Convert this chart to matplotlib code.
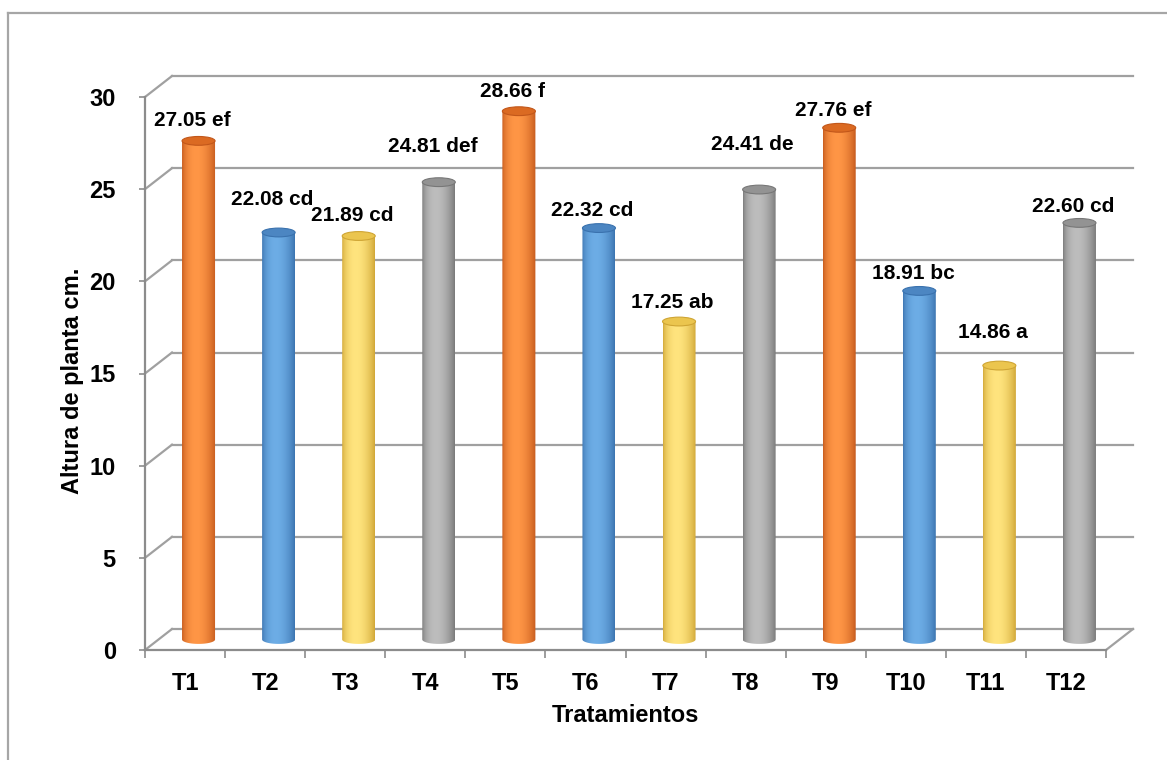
import numpy as np
import matplotlib
matplotlib.use("Agg")
import matplotlib.pyplot as plt
from matplotlib.patches import Ellipse, PathPatch
from matplotlib.path import Path
from matplotlib.lines import Line2D
from matplotlib.colors import to_rgb

plt.rcParams["font.family"] = ["Liberation Sans", "DejaVu Sans"]
plt.rcParams["font.weight"] = "bold"

# Data
treatments = ["T1", "T2", "T3", "T4", "T5", "T6", "T7", "T8", "T9", "T10", "T11", "T12"]
heights = [27.05, 22.08, 21.89, 24.81, 28.66, 22.32, 17.25, 24.41, 27.76, 18.91, 14.86, 22.60]
groups = ["ef", "cd", "cd", "def", "f", "cd", "ab", "de", "ef", "bc", "a", "cd"]

# Label lift above each cylinder top, in pixels
label_gap_px = [20, 33, 20, 36, 20, 18, 19, 45, 17, 17, 33, 16]

# Shading palettes per colour family: (edge, body highlight, top face)
palettes = {
    "orange": ("#C2571A", "#FF9646", "#DB6A22"),
    "blue": ("#3A72AE", "#6DADE6", "#4C86C2"),
    "yellow": ("#CFA534", "#FFE47E", "#EBC54E"),
    "gray": ("#777777", "#BDBDBD", "#939393"),
}
bar_colours = ["orange", "blue", "yellow", "gray"] * 3

W, H, DPI = 1167, 760, 100
fig = plt.figure(figsize=(W / DPI, H / DPI), dpi=DPI)
fig.patch.set_facecolor("white")

# Outer chart border (left and top edges)
border_c = "#A6A6A6"
fig.add_artist(Line2D([8 / W, 8 / W], [0, 1 - 13 / H], color=border_c, lw=1.6, transform=fig.transFigure))
fig.add_artist(Line2D([8 / W, 1], [1 - 13 / H, 1 - 13 / H], color=border_c, lw=1.6, transform=fig.transFigure))

# Front plane of the 3-D box
ax = fig.add_axes([145 / W, 110 / H, 961 / W, 553 / H])
n = len(treatments)
ymax = 30
ax.set_xlim(0, n)
ax.set_ylim(0, ymax)

px_per_x = 961 / n
px_per_y = 553 / ymax
depth_x = 27 / px_per_x
depth_y = 21 / px_per_y

grid_c = "#A0A0A0"
for v in range(0, ymax + 1, 5):
    ax.plot([0, depth_x], [v, v + depth_y], color=grid_c, lw=1.6, clip_on=False, zorder=1)
    ax.plot([depth_x, n + depth_x], [v + depth_y, v + depth_y], color=grid_c, lw=1.6,
            clip_on=False, zorder=1)
ax.plot([n, n + depth_x], [0, depth_y], color=grid_c, lw=1.6, clip_on=False, zorder=1)

for side in ["top", "right"]:
    ax.spines[side].set_visible(False)
for side in ["left", "bottom"]:
    ax.spines[side].set_color("#8C8C8C")
    ax.spines[side].set_linewidth(1.6)
    ax.spines[side].set_zorder(2)

ax.set_yticks(range(0, ymax + 1, 5))
ax.tick_params(axis="y", direction="out", length=4, width=1.2, color="#8C8C8C",
               labelsize=17, pad=17)
ax.set_xticks(np.arange(0, n + 1))
ax.set_xticklabels([])
ax.tick_params(axis="x", which="major", direction="out", length=6, width=1.2, color="#8C8C8C")
ax.set_xticks(np.arange(n) + 0.5, minor=True)
ax.set_xticklabels(treatments, minor=True)
ax.tick_params(axis="x", which="minor", length=0, labelsize=17, pad=16)
for lab in ax.get_yticklabels() + ax.get_xticklabels(minor=True):
    lab.set_fontweight("bold")

ax.set_xlabel("Tratamientos", fontsize=17, fontweight="bold")
ax.set_ylabel("Altura de planta cm.", fontsize=17, fontweight="bold")
ax.yaxis.set_label_coords(-61 / 961, (650 - 381) / 553)
ax.xaxis.set_label_coords(0.5, -(716 - 650) / 553)
ax.xaxis.label.set_va("center")

# Cylinders
bar_w = 33 / px_per_x
ell_h = 4.4 / px_per_y
tt = np.linspace(0, 1, 256)
tt_skew = tt ** (np.log(0.5) / np.log(0.42))
profile = np.sin(np.pi * tt_skew) ** 0.75

for i, (val, fam) in enumerate(zip(heights, bar_colours)):
    edge, light, top = palettes[fam]
    e, l = np.array(to_rgb(edge)), np.array(to_rgb(light))
    grad = (e[None, :] + (l - e)[None, :] * profile[:, None])[None, :, :]

    xc = i + 0.5 + depth_x / 2
    y0 = depth_y / 2
    y1 = val + depth_y / 2
    xl, xr = xc - bar_w / 2, xc + bar_w / 2

    th = np.linspace(np.pi, 2 * np.pi, 60)
    arc = np.column_stack([xc + bar_w / 2 * np.cos(th), y0 + ell_h * np.sin(th)])
    verts = np.vstack([[xl, y1], [xl, y0], arc, [xr, y1], [xl, y1]])
    codes = [Path.MOVETO] + [Path.LINETO] * (len(verts) - 2) + [Path.CLOSEPOLY]
    body = PathPatch(Path(verts, codes), facecolor="none", edgecolor="none")
    ax.add_patch(body)
    im = ax.imshow(grad, extent=(xl, xr, y0 - ell_h, y1), aspect="auto",
                   interpolation="bilinear", zorder=3)
    im.set_clip_path(body)

    cap = Ellipse((xc, y1), bar_w, 2 * ell_h, facecolor=top, edgecolor=edge, lw=0.8, zorder=4)
    ax.add_patch(cap)

    ax.annotate(f"{val:.2f} {groups[i]}", xy=(xc - 0.08, y1),
                xytext=(0, label_gap_px[i] * 0.72), textcoords="offset points",
                ha="center", va="center", fontsize=15, fontweight="bold",
                color="black", zorder=5, annotation_clip=False)

ax.set_xlim(0, n)
ax.set_ylim(0, ymax)
ax.set_facecolor("none")

fig.savefig("out.png", dpi=DPI, facecolor="white")
